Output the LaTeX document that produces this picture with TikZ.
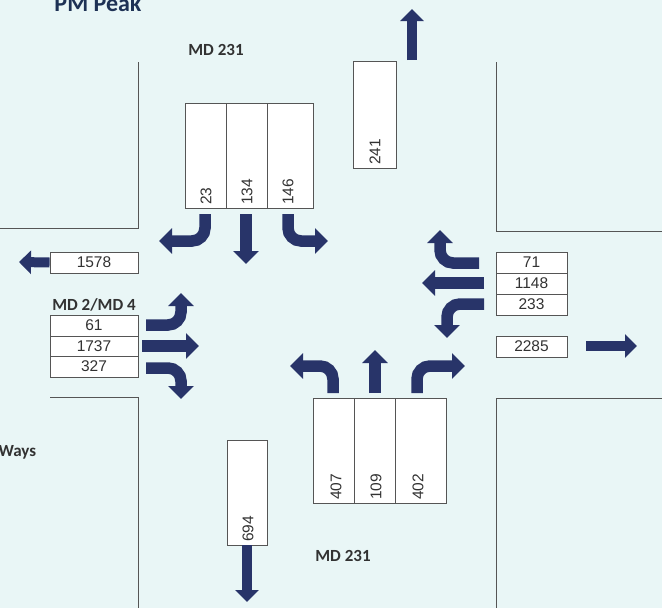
\documentclass[tikz,border=0pt]{standalone}
\usepackage{fontspec}
\setmainfont{Liberation Sans}
\newfontfamily\lblfont{Carlito}
\usetikzlibrary{arrows.meta}
\definecolor{bgc}{RGB}{233,246,246}
\definecolor{navy}{RGB}{40,52,105}
\definecolor{roadc}{RGB}{85,85,85}
\definecolor{txtc}{RGB}{50,50,50}
\definecolor{titlec}{RGB}{30,50,85}
\begin{document}
\begin{tikzpicture}[x=1pt,y=-1pt,
  road/.style={draw=roadc,line width=1pt},
  lane/.style={draw=roadc,line width=0.9pt,fill=white},
  num/.style={font=\fontsize{15.5}{16}\selectfont,text=txtc,inner sep=1pt},
  vnum/.style={num,rotate=90,anchor=west},
  lbl/.style={font=\lblfont\bfseries\fontsize{17}{18}\selectfont,text=txtc},
  arr/.style={draw=navy,line width=11.5pt,rounded corners=13pt,-{Triangle[length=13pt,width=25pt]}},
  xarr/.style={draw=navy,line width=10pt,-{Triangle[length=12pt,width=23pt]}}]
\useasboundingbox (0,0) rectangle (662,608);
\clip (0,0) rectangle (662,608);
\fill[bgc] (0,0) rectangle (662,608);
% roads
\draw[road] (138,62) -- (138,228) -- (0,228);
\draw[road] (496,62) -- (496,231) -- (662,231);
\draw[road] (50,397) -- (138,397) -- (138,608);
\draw[road] (496,608) -- (496,398) -- (662,398);
% titles
\node[font=\lblfont\bfseries\fontsize{24}{26}\selectfont,text=titlec,anchor=base] (title) at (98,11) {PM Peak};
\node[lbl] (mdn) at (216,50) {MD 231};
\node[lbl] (mds) at (343,556) {MD 231};
\node[lbl] (mdw) at (94,305) {MD 2/MD 4};
\node[lbl,anchor=west] (ways) at (-5,452) {Ways};
% southbound approach
\draw[lane] (185,103) rectangle (313,208);
\draw[roadc,line width=0.9pt] (226,103) -- (226,208) (267,103) -- (267,208);
\node[vnum] (sbl) at (206,206) {23};
\node[vnum] (sbt) at (247,206) {134};
\node[vnum] (sbr) at (288,206) {146};
\coordinate (sblt) at (205,214); \coordinate (sblh) at (159,241);
\coordinate (sbtt) at (246,214); \coordinate (sbth) at (246,264);
\coordinate (sbrt) at (288,214); \coordinate (sbrh) at (328,241);
\draw[arr] (sblt) |- (sblh);
\draw[arr] (sbtt) -- (sbth);
\draw[arr] (sbrt) |- (sbrh);
% northbound exit
\draw[lane] (353,61) rectangle (396,168);
\node[vnum] (nbx) at (375,166) {241};
\coordinate (nbxt) at (412,60); \coordinate (nbxh) at (412,9);
\draw[xarr] (nbxt) -- (nbxh);
% westbound exit (left)
\node[lane,num,minimum width=88pt,minimum height=21pt] (wbx) at (94,262.5) {1578};
\coordinate (wbxh) at (19,262);
\draw[xarr] (wbx.west) -- (wbxh);
% eastbound approach
\node[lane,num,minimum width=88pt,minimum height=21pt] (ebl) at (94,325.5) {61};
\node[lane,num,minimum width=88pt,minimum height=20pt] (ebt) at (94,346) {1737};
\node[lane,num,minimum width=88pt,minimum height=21pt] (ebr) at (94,366.5) {327};
\coordinate (eblt) at (146,325); \coordinate (eblh) at (181,293);
\coordinate (ebtt) at (142,346); \coordinate (ebth) at (199,346);
\coordinate (ebrt) at (146,368); \coordinate (ebrh) at (181,399);
\draw[arr] (eblt) -| (eblh);
\draw[arr] (ebtt) -- (ebth);
\draw[arr] (ebrt) -| (ebrh);
% westbound approach
\node[lane,num,minimum width=71pt,minimum height=21pt] (wbl) at (531.5,262.5) {71};
\node[lane,num,minimum width=71pt,minimum height=21pt] (wbt) at (531.5,283.5) {1148};
\node[lane,num,minimum width=71pt,minimum height=21pt] (wbr) at (531.5,304.5) {233};
\coordinate (wblt) at (479,263); \coordinate (wblh) at (440,230);
\coordinate (wbtt) at (484,283); \coordinate (wbth) at (422,283);
\coordinate (wbrt) at (484,304); \coordinate (wbrh) at (447,338);
\draw[arr] (wblt) -| (wblh);
\draw[arr] (wbtt) -- (wbth);
\draw[arr] (wbrt) -| (wbrh);
% eastbound exit (right)
\node[lane,num,minimum width=71pt,minimum height=21pt] (ebx) at (531.5,346.5) {2285};
\coordinate (ebxt) at (586,346); \coordinate (ebxh) at (637,346);
\draw[xarr] (ebxt) -- (ebxh);
% northbound approach
\draw[lane] (313,398) rectangle (446,503);
\draw[roadc,line width=0.9pt] (354,398) -- (354,503) (395,398) -- (395,503);
\node[vnum] (nbl) at (336,501) {407};
\node[vnum] (nbt) at (376,501) {109};
\node[vnum] (nbr) at (418,501) {402};
\coordinate (nblt) at (333,393); \coordinate (nblh) at (290,366);
\coordinate (nbtt) at (375,393); \coordinate (nbth) at (375,350);
\coordinate (nbrt) at (417,393); \coordinate (nbrh) at (465,366);
\draw[arr] (nblt) |- (nblh);
\draw[arr] (nbtt) -- (nbth);
\draw[arr] (nbrt) |- (nbrh);
% southbound exit
\draw[lane] (227,440) rectangle (267,545);
\node[vnum] (sbx) at (248,543) {694};
\coordinate (sbxt) at (247,545); \coordinate (sbxh) at (247,602);
\draw[xarr] (sbxt) -- (sbxh);
\end{tikzpicture}
\end{document}
